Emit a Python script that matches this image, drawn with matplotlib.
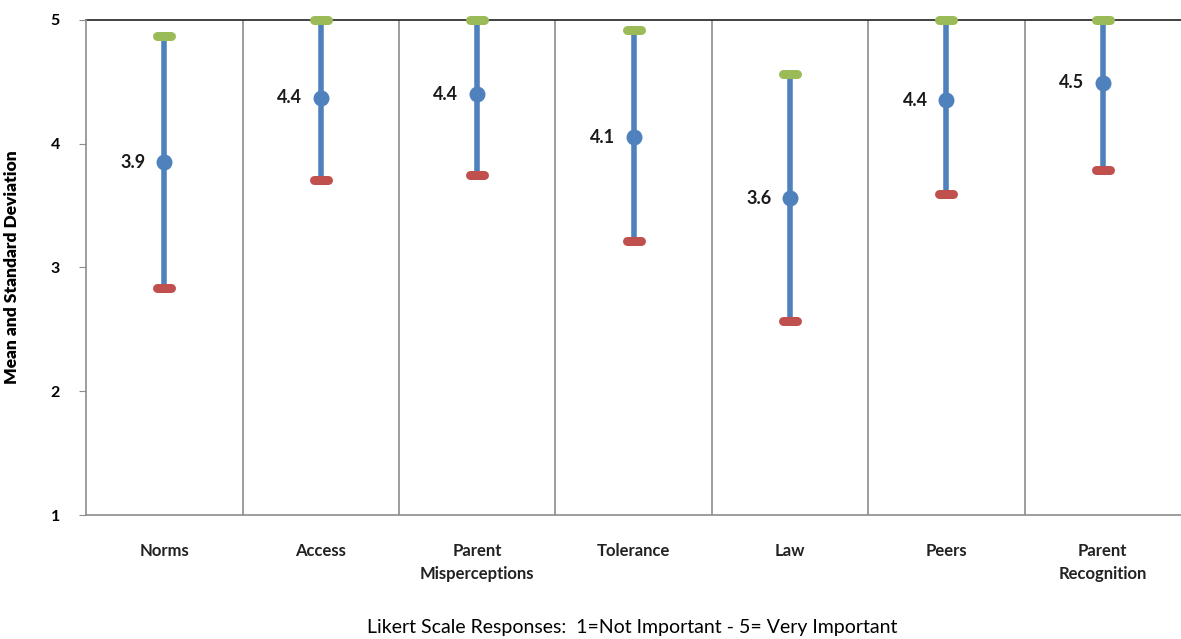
import matplotlib
matplotlib.use("Agg")
import matplotlib.pyplot as plt
import numpy as np

plt.rcParams["font.family"] = ["Lato", "DejaVu Sans"]

# ── Data ──────────────────────────────────────────────────────────────────────
categories = ["Norms", "Access", "Parent\nMisperceptions", "Tolerance",
              "Law", "Peers", "Parent\nRecognition"]
means = [3.85, 4.37, 4.40, 4.05, 3.56, 4.35, 4.49]
highs = [4.87, 5.00, 5.00, 4.92, 4.56, 5.00, 5.00]
lows = [2.83, 3.71, 3.75, 3.21, 2.57, 3.59, 3.79]
mean_labels = ["3.9", "4.4", "4.4", "4.1", "3.6", "4.4", "4.5"]

BLUE = "#4f81bd"
GREEN = "#9bbb59"
RED = "#c0504d"
GRID = "#8c8c8c"

fig = plt.figure(figsize=(11.81, 6.39), dpi=100)
ax = fig.add_axes([0.073, 0.194, 0.927, 0.775])

x = np.arange(len(categories))
cap_half = 0.045

# category separators
for b in np.arange(0.5, len(categories) - 0.5, 1):
    ax.axvline(b, color=GRID, lw=1.2, zorder=1)
ax.axhline(5, color="#333333", lw=1.3, zorder=1, clip_on=False)

# std-dev range lines
ax.vlines(x, lows, highs, color=BLUE, lw=4, zorder=3)
ax.scatter(x, means, s=110, color=BLUE, zorder=4)
ax.hlines(highs, x - cap_half, x + cap_half, color=GREEN, lw=6.5,
          capstyle="round", zorder=5, clip_on=False)
ax.hlines(lows, x - cap_half, x + cap_half, color=RED, lw=6.5,
          capstyle="round", zorder=5)

for xi, m, lab in zip(x, means, mean_labels):
    ax.text(xi - 0.12, m, lab, ha="right", va="center", fontsize=13,
            fontweight="bold", color="#1a1a1a", zorder=6)

ax.set_xlim(-0.5, len(categories) - 0.5)
ax.set_ylim(1, 5)
ax.set_yticks([1, 2, 3, 4, 5])
ax.set_yticklabels(["1", "2", "3", "4", "5"], fontsize=11.5, fontweight="bold")
ax.set_xticks(x)
ax.set_xticklabels(categories, fontsize=12, fontweight="bold", color="#222222",
                   linespacing=1.55)
ax.tick_params(axis="x", length=0, pad=20)
ax.tick_params(axis="y", length=5, color=GRID, pad=14)

for side in ["top", "right"]:
    ax.spines[side].set_visible(False)
for side in ["left", "bottom"]:
    ax.spines[side].set_color(GRID)
    ax.spines[side].set_linewidth(1.2)

ax.set_ylabel("Mean and Standard Deviation", fontsize=12.5, fontweight="heavy", labelpad=22)
fig.text(0.535, 0.005, "Likert Scale Responses:  1=Not Important - 5= Very Important",
         ha="center", va="bottom", fontsize=14)

fig.savefig("out.png", dpi=100)
